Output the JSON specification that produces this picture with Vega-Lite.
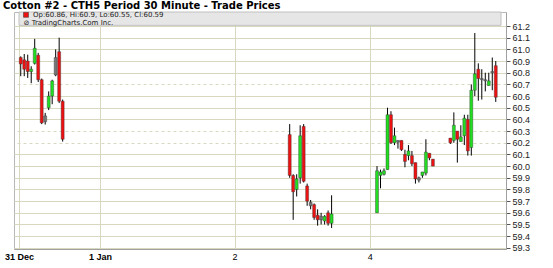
{
  "$schema": "https://vega.github.io/schema/vega-lite/v6.json",
  "width": 492,
  "height": 237,
  "autosize": {"type": "none"},
  "padding": {"left": 14, "top": 12, "right": 47, "bottom": 19},
  "background": "white",
  "title": {"text": "Cotton #2 - CTH5 Period 30 Minute - Trade Prices", "anchor": "start", "frame": "group", "dx": -11, "dy": 0, "offset": 0, "font": "DejaVu Sans", "fontSize": 10, "fontWeight": "bold", "color": "#000"},
  "config": {"view": {"stroke": "#b8b8b8", "strokeWidth": 1}},
  "data": {"values": [
    {"t": 0, "o": 60.93, "h": 60.94, "l": 60.77, "c": 60.875, "dir": "down"},
    {"t": 1, "o": 60.91, "h": 60.96, "l": 60.77, "c": 60.83, "dir": "down"},
    {"t": 2, "o": 60.9, "h": 60.955, "l": 60.755, "c": 60.81, "dir": "down"},
    {"t": 3, "o": 60.81, "h": 60.855, "l": 60.71, "c": 60.83, "dir": "up"},
    {"t": 4, "o": 60.88, "h": 61.09, "l": 60.87, "c": 61.01, "dir": "up"},
    {"t": 5, "o": 60.95, "h": 60.97, "l": 60.72, "c": 60.74, "dir": "down"},
    {"t": 6, "o": 60.74, "h": 60.75, "l": 60.36, "c": 60.37, "dir": "down"},
    {"t": 7, "o": 60.43, "h": 60.456, "l": 60.356, "c": 60.38, "dir": "flat"},
    {"t": 8, "o": 60.5, "h": 60.64, "l": 60.48, "c": 60.6, "dir": "up"},
    {"t": 9, "o": 60.6, "h": 60.74, "l": 60.53, "c": 60.73, "dir": "up"},
    {"t": 10, "o": 60.78, "h": 61.0, "l": 60.77, "c": 60.93, "dir": "flat"},
    {"t": 11, "o": 60.98, "h": 61.1, "l": 60.54, "c": 60.556, "dir": "down"},
    {"t": 12, "o": 60.556, "h": 60.57, "l": 60.21, "c": 60.23, "dir": "down"},
    {"t": 77, "o": 60.27, "h": 60.36, "l": 59.9, "c": 59.92, "dir": "down"},
    {"t": 78, "o": 59.92, "h": 59.93, "l": 59.54, "c": 59.78, "dir": "down"},
    {"t": 79, "o": 59.8, "h": 59.93, "l": 59.74, "c": 59.89, "dir": "up"},
    {"t": 80, "o": 59.9, "h": 60.35, "l": 59.85, "c": 60.26, "dir": "up"},
    {"t": 81, "o": 60.34, "h": 60.36, "l": 59.86, "c": 59.87, "dir": "down"},
    {"t": 82, "o": 59.83, "h": 59.85, "l": 59.66, "c": 59.7, "dir": "down"},
    {"t": 83, "o": 59.69, "h": 59.71, "l": 59.63, "c": 59.66, "dir": "flat"},
    {"t": 84, "o": 59.67, "h": 59.68, "l": 59.54, "c": 59.56, "dir": "down"},
    {"t": 85, "o": 59.58, "h": 59.63, "l": 59.49, "c": 59.54, "dir": "down"},
    {"t": 86, "o": 59.57, "h": 59.6, "l": 59.5, "c": 59.54, "dir": "flat"},
    {"t": 87, "o": 59.53, "h": 59.58, "l": 59.5, "c": 59.57, "dir": "up"},
    {"t": 88, "o": 59.6, "h": 59.62, "l": 59.49, "c": 59.51, "dir": "down"},
    {"t": 89, "o": 59.51, "h": 59.75, "l": 59.47, "c": 59.59, "dir": "up"},
    {"t": 102, "o": 59.6, "h": 60.0, "l": 59.6, "c": 59.96, "dir": "up"},
    {"t": 103, "o": 59.92, "h": 59.97, "l": 59.81, "c": 59.95, "dir": "up"},
    {"t": 104, "o": 59.93, "h": 59.98, "l": 59.92, "c": 59.96, "dir": "up"},
    {"t": 105, "o": 59.97, "h": 60.5, "l": 59.97, "c": 60.44, "dir": "up"},
    {"t": 106, "o": 60.44, "h": 60.47, "l": 60.19, "c": 60.2, "dir": "down"},
    {"t": 107, "o": 60.2, "h": 60.33, "l": 60.18, "c": 60.26, "dir": "up"},
    {"t": 108, "o": 60.22, "h": 60.22, "l": 60.15, "c": 60.205, "dir": "flat"},
    {"t": 109, "o": 60.22, "h": 60.22, "l": 60.13, "c": 60.14, "dir": "down"},
    {"t": 110, "o": 60.1, "h": 60.14, "l": 59.99, "c": 60.04, "dir": "down"},
    {"t": 111, "o": 60.09, "h": 60.18, "l": 60.05, "c": 60.13, "dir": "up"},
    {"t": 112, "o": 60.09, "h": 60.13, "l": 60.0, "c": 60.02, "dir": "down"},
    {"t": 113, "o": 60.03, "h": 60.03, "l": 59.85, "c": 59.89, "dir": "down"},
    {"t": 114, "o": 59.9, "h": 59.91, "l": 59.86, "c": 59.88, "dir": "flat"},
    {"t": 115, "o": 59.92, "h": 59.95, "l": 59.9, "c": 59.95, "dir": "up"},
    {"t": 116, "o": 59.94, "h": 60.23, "l": 59.92, "c": 60.12, "dir": "up"},
    {"t": 117, "o": 60.11, "h": 60.11, "l": 60.05, "c": 60.07, "dir": "down"},
    {"t": 118, "o": 60.06, "h": 60.06, "l": 60.0, "c": 60.0, "dir": "down"},
    {"t": 123, "o": 60.24, "h": 60.24, "l": 60.19, "c": 60.2, "dir": "down"},
    {"t": 124, "o": 60.22, "h": 60.46, "l": 60.2, "c": 60.35, "dir": "up"},
    {"t": 125, "o": 60.3, "h": 60.3, "l": 60.03, "c": 60.23, "dir": "down"},
    {"t": 126, "o": 60.21, "h": 60.35, "l": 60.21, "c": 60.25, "dir": "up"},
    {"t": 127, "o": 60.26, "h": 60.44, "l": 60.18, "c": 60.41, "dir": "up"},
    {"t": 128, "o": 60.4, "h": 60.44, "l": 60.09, "c": 60.13, "dir": "down"},
    {"t": 129, "o": 60.16, "h": 60.7, "l": 60.09, "c": 60.65, "dir": "up"},
    {"t": 130, "o": 60.65, "h": 61.14, "l": 60.6, "c": 60.79, "dir": "up"},
    {"t": 131, "o": 60.83, "h": 60.88, "l": 60.56, "c": 60.75, "dir": "down"},
    {"t": 132, "o": 60.75, "h": 60.83, "l": 60.57, "c": 60.74, "dir": "flat"},
    {"t": 133, "o": 60.74, "h": 60.8, "l": 60.64, "c": 60.73, "dir": "flat"},
    {"t": 134, "o": 60.69, "h": 60.8, "l": 60.69, "c": 60.73, "dir": "up"},
    {"t": 135, "o": 60.8, "h": 60.93, "l": 60.65, "c": 60.81, "dir": "flat"},
    {"t": 136, "o": 60.86, "h": 60.9, "l": 60.55, "c": 60.59, "dir": "down"}
  ]},
  "layer": [
    {
      "mark": {"type": "rule", "color": "#000", "strokeWidth": 1},
      "encoding": {
        "x": {"field": "t", "type": "quantitative",
          "scale": {"domain": [-0.5, 137.5], "nice": false, "zero": false},
          "axis": {"title": null, "orient": "bottom", "values": [-0.5, 22.7, 61.2, 99.9], "tickCount": 10,
            "labelExpr": "datum.value < 0 ? '31 Dec' : datum.value < 30 ? '1 Jan' : datum.value < 80 ? '2' : '4'",
            "labelFlush": false, "labelOverlap": false, "labelFont": "Liberation Sans", "labelFontSize": 9, "labelColor": "#000",
            "labelFontWeight": {"condition": {"test": "datum.value < 30", "value": "bold"}, "value": "normal"},
            "labelPadding": 3, "ticks": false, "domain": true, "domainColor": "#a0a0a0",
            "grid": true, "gridColor": "#d8d8c0", "gridWidth": 1}},
        "y": {"field": "l", "type": "quantitative",
          "scale": {"domain": [59.29, 61.32], "nice": false, "zero": false},
          "axis": {"title": null, "orient": "right", "tickCount": 30,
            "values": [59.3, 59.4, 59.5, 59.6, 59.7, 59.8, 59.9, 60.0, 60.1, 60.2, 60.3, 60.4, 60.5, 60.6, 60.7, 60.8, 60.9, 61.0, 61.1, 61.2],
            "format": ".1f", "labelFont": "Liberation Sans", "labelFontSize": 9, "labelColor": "#222", "labelOverlap": false, "labelFlush": false,
            "labelPadding": 2, "tickSize": 4, "tickColor": "#555", "domain": true, "domainColor": "#a0a0a0",
            "grid": true, "gridColor": "#d8d8c0", "gridWidth": 1,
            "gridDash": {"condition": {"test": "abs(datum.value - 60.2) < 0.01 || abs(datum.value - 60.3) < 0.01 || abs(datum.value - 60.7) < 0.01", "value": [3, 3]}, "value": []}}},
        "y2": {"field": "h"}
      }
    },
    {
      "mark": {"type": "bar", "size": 3, "stroke": "#333", "strokeWidth": 0.4},
      "encoding": {
        "x": {"field": "t", "type": "quantitative"},
        "y": {"field": "o", "type": "quantitative"},
        "y2": {"field": "c"},
        "color": {"field": "dir", "type": "nominal", "scale": {"domain": ["up", "down", "flat"], "range": ["#22dd22", "#ee1111", "#777777"]}, "legend": null}
      }
    },
    {
      "data": {"values": [{}]},
      "mark": {"type": "rect", "color": "#e6e6e6", "stroke": "#c0c0c0", "strokeWidth": 1},
      "encoding": {
        "x": {"datum": -0.5, "type": "quantitative"},
        "x2": {"datum": 137.5},
        "y": {"datum": 61.32, "type": "quantitative"},
        "y2": {"datum": 61.206}
      }
    },
    {
      "data": {"values": [{}]},
      "mark": {"type": "square", "color": "#ee1111", "stroke": "#333", "strokeWidth": 0.5, "size": 25, "opacity": 1, "filled": true},
      "encoding": {
        "x": {"datum": 1.5, "type": "quantitative"},
        "y": {"datum": 61.296, "type": "quantitative"}
      }
    },
    {
      "data": {"values": [{}]},
      "mark": {"type": "text", "align": "left", "baseline": "middle", "font": "DejaVu Sans", "fontSize": 7, "color": "#222"},
      "encoding": {
        "x": {"datum": 3.5, "type": "quantitative"},
        "y": {"datum": 61.296, "type": "quantitative"},
        "text": {"value": "Op:60.86, Hi:60.9, Lo:60.55, Cl:60.59"}
      }
    },
    {
      "data": {"values": [{}]},
      "mark": {"type": "text", "align": "left", "baseline": "middle", "font": "DejaVu Sans", "fontSize": 7, "color": "#222"},
      "encoding": {
        "x": {"datum": 0.8, "type": "quantitative"},
        "y": {"datum": 61.223, "type": "quantitative"},
        "text": {"value": "⊘ TradingCharts.Com Inc."}
      }
    }
  ]
}
